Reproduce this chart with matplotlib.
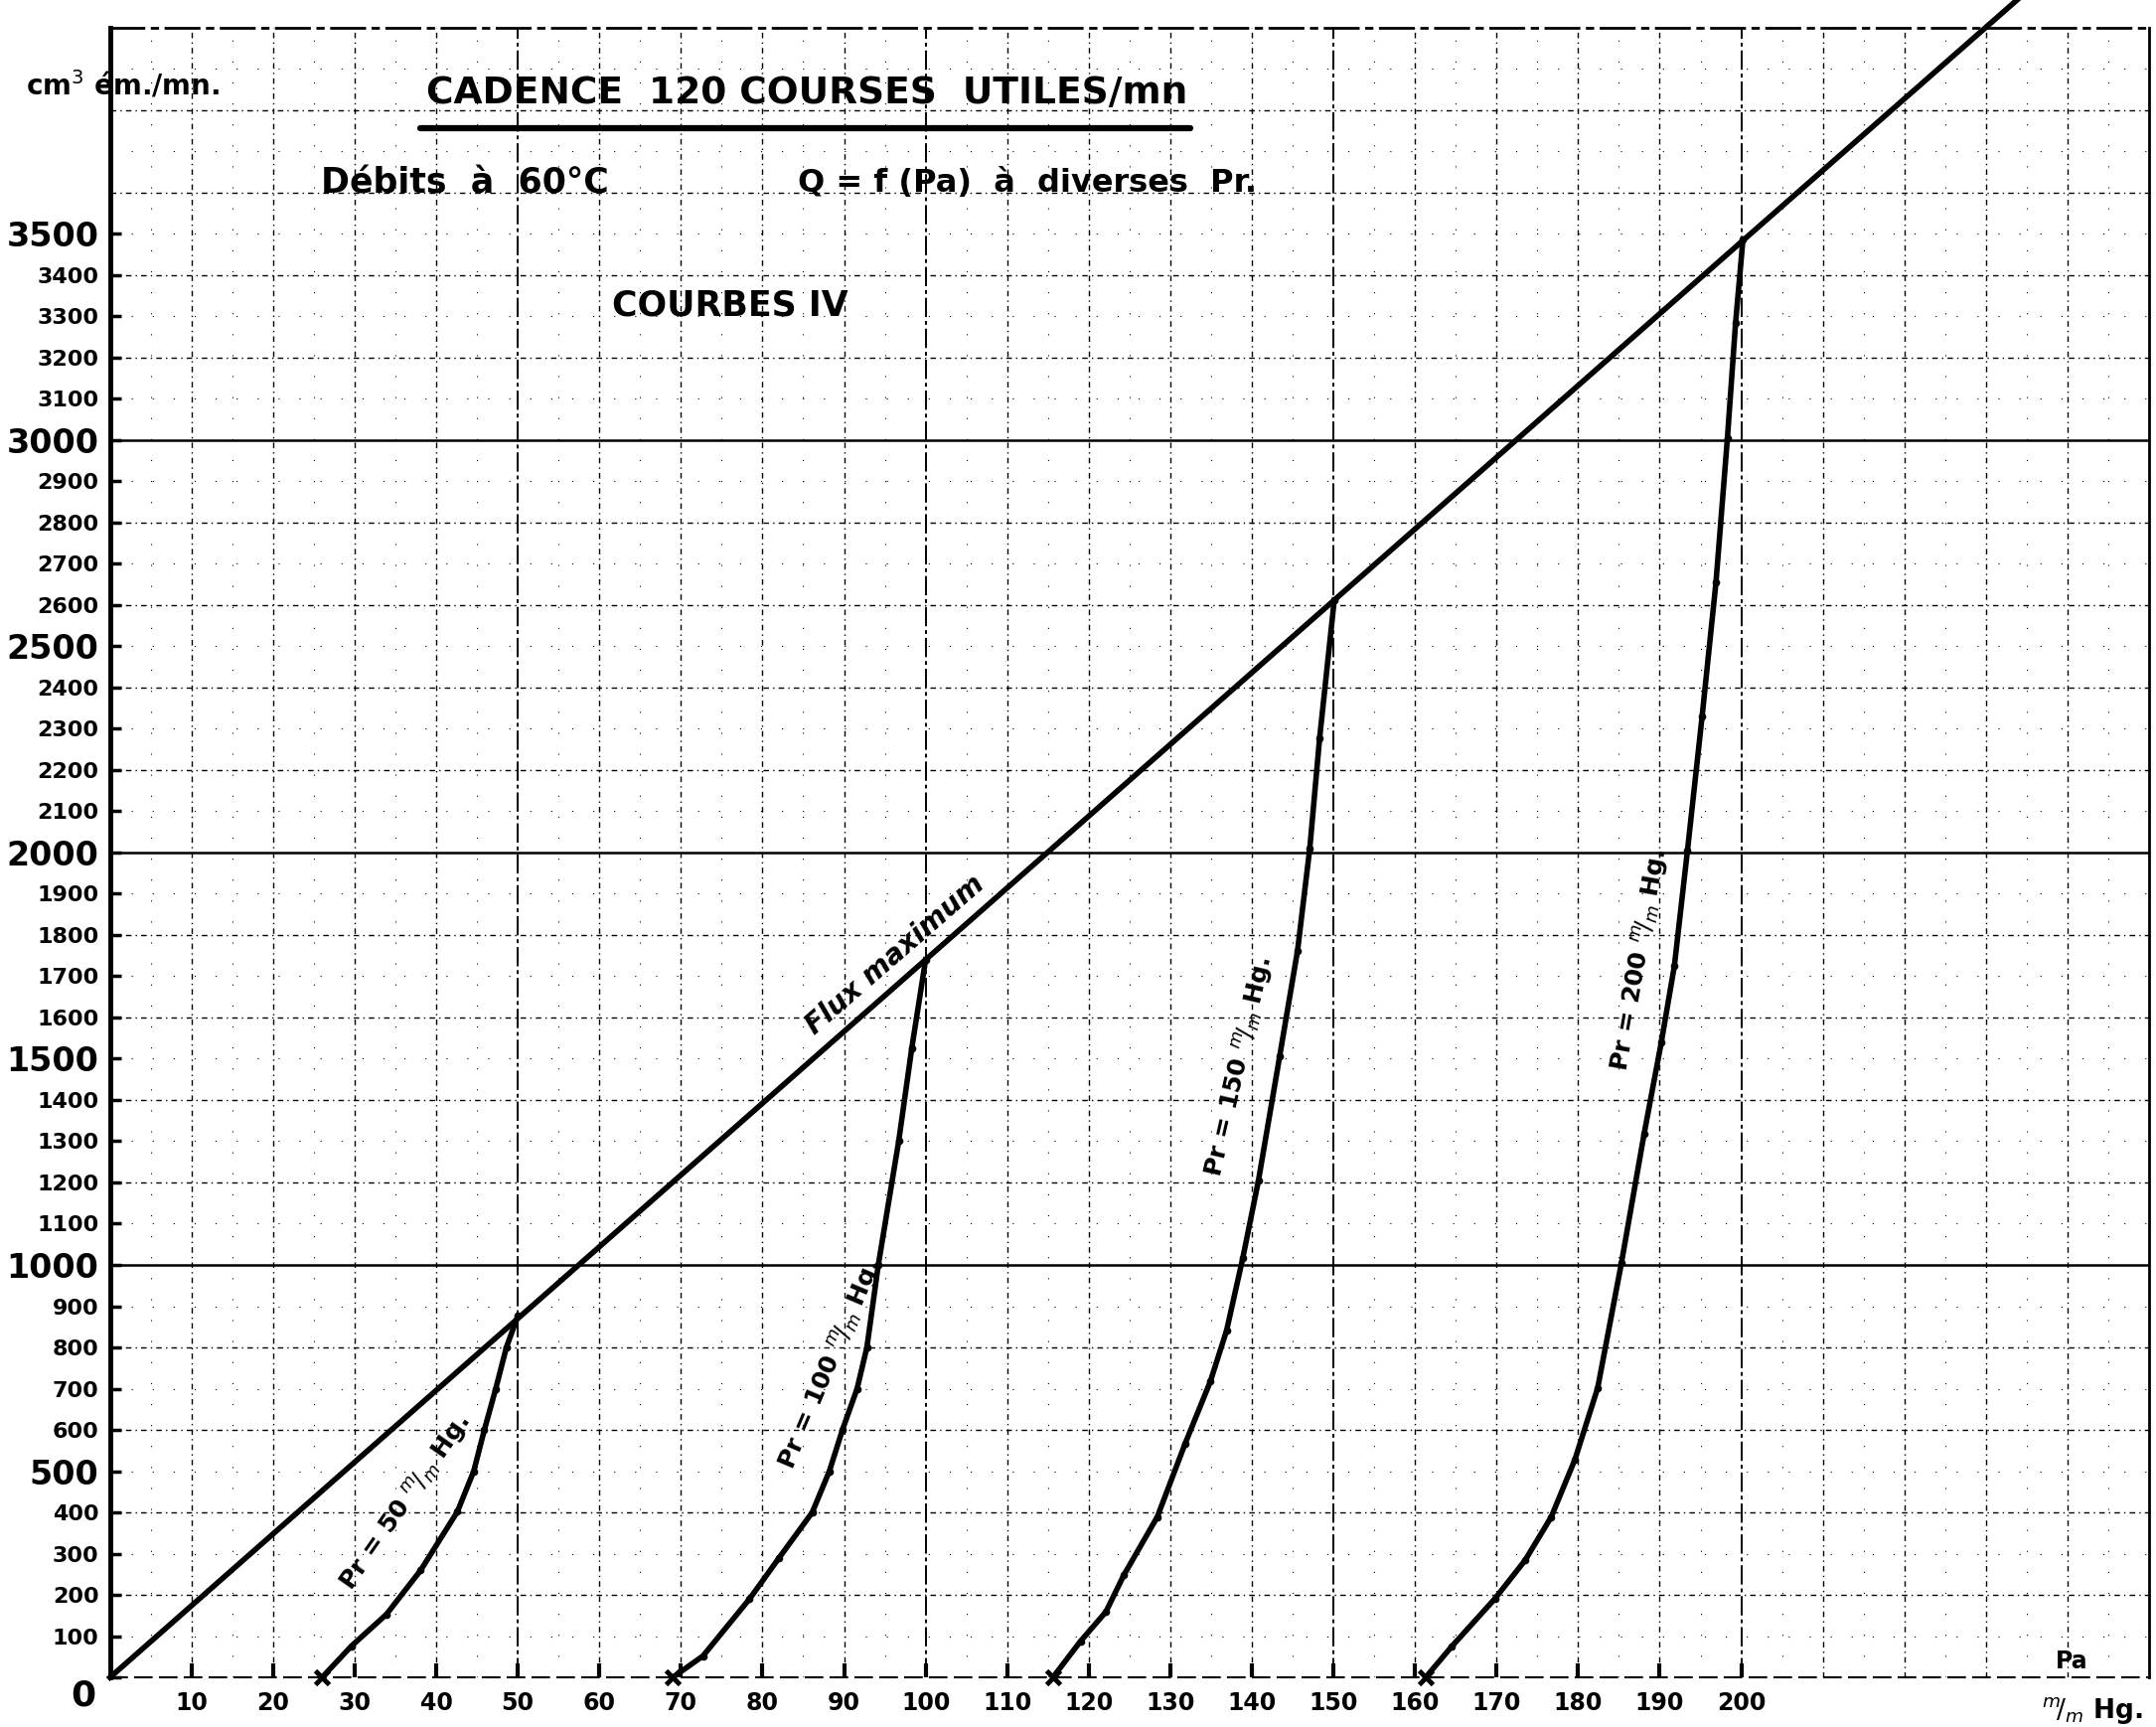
import matplotlib
matplotlib.use("Agg")
import matplotlib.pyplot as plt
import numpy as np

# ---- data ----
flux_x = [0, 50, 100, 150, 200, 234]
flux_y = [0, 870, 1740, 2610, 3480, 4070]

pr50_x = [26, 29.6, 33.9, 38.1, 42.6, 44.6, 45.9, 47.3, 48.6, 50]
pr50_y = [0, 76, 153, 260, 402, 500, 600, 700, 800, 876]

pr100_x = [69, 72.7, 78.4, 82.0, 86.1, 88.2, 89.8, 91.6, 92.8, 94.2, 96.7, 98.3, 100]
pr100_y = [0, 52, 190, 289, 400, 500, 600, 700, 800, 1000, 1300, 1525, 1740]

pr150_x = [115.6, 119.0, 122.1, 124.3, 128.4, 131.8, 134.9, 136.9, 138.9, 140.8, 143.4, 145.6, 147.1, 148.3, 150.1]
pr150_y = [0, 88, 159, 248, 389, 566, 717, 841, 1018, 1204, 1505, 1762, 2010, 2276, 2612]

pr200_x = [161.3, 164.5, 169.8, 173.5, 176.7, 179.6, 182.4, 185.3, 188.1, 190.2, 191.8, 193.4, 195.2, 196.9, 198.3, 199.3, 200.2]
pr200_y = [0, 75, 191, 284, 389, 528, 702, 1004, 1319, 1540, 1725, 2004, 2330, 2655, 3004, 3283, 3485]

curves = [(pr50_x, pr50_y), (pr100_x, pr100_y), (pr150_x, pr150_y), (pr200_x, pr200_y)]

# curve labels: text, x, y, rotation
curve_labels = [
    (r"Pr = 50 $^{m}\!/_{m}$ Hg.", 36.2, 425, 55),
    (r"Pr = 100 $^{m}\!/_{m}$ Hg.", 88.4, 760, 67),
    (r"Pr = 150 $^{m}\!/_{m}$ Hg.", 138.4, 1480, 77),
    (r"Pr = 200 $^{m}\!/_{m}$ Hg.", 187.6, 1740, 80),
]

x_ticks = list(range(10, 201, 10))
y_ticks = list(range(0, 3501, 100))

plt.rcParams['font.family'] = ['DejaVu Sans']
fig = plt.figure(figsize=(21.7, 17.38), dpi=100)
ax = fig.add_axes([0.051, 0.0287, 0.9458, 0.9554])
ax.set_xlim(0, 250)
ax.set_ylim(0, 4000)

# ---- hand-ruled looking grid ----
for gx in np.arange(5, 250, 5):
    if gx % 50 == 0:
        ax.axvline(gx, color='black', lw=1.4, ls=(0, (10, 2, 2, 2)), zorder=1)
    elif gx % 10 == 0:
        ax.axvline(gx, color='black', lw=1.0, ls=(0, (4, 3, 1, 3)), zorder=1)
    else:
        ax.axvline(gx, color='black', lw=0.8, ls=(0, (1, 18)), zorder=1)
for gy in np.arange(100, 4000, 100):
    if gy % 1000 == 0:
        ax.axhline(gy, color='black', lw=1.8, ls='-', zorder=1)
    elif gy % 200 == 0:
        ax.axhline(gy, color='black', lw=1.0, ls=(0, (4, 3, 1, 3)), zorder=1)
    else:
        ax.axhline(gy, color='black', lw=0.8, ls=(0, (1, 18)), zorder=1)

# ---- curves ----
ax.plot(flux_x, flux_y, color='black', lw=4, clip_on=False, zorder=3,
        solid_joinstyle='round')
for cx, cy in curves:
    ax.plot(cx, cy, color='black', lw=4, marker='o', ms=4.5, zorder=3,
            solid_joinstyle='round')
    ax.plot(cx[0], cy[0], color='black', marker='x', ms=10, mew=3.5, zorder=4, clip_on=False)

for txt, tx, ty, rot in curve_labels:
    ax.text(tx, ty, txt, rotation=rot, fontsize=18, fontweight='heavy',
            ha='center', va='center', rotation_mode='anchor', zorder=5)
ax.text(96.2, 1752, "Flux maximum", rotation=41, fontsize=20, fontweight='heavy',
        style='italic', ha='center', va='center', rotation_mode='anchor', zorder=5)

# ---- spines & ticks ----
ax.spines['left'].set_linewidth(3.5)
ax.spines['right'].set_linewidth(2)
ax.spines['top'].set_linewidth(2)
ax.spines['top'].set_linestyle((0, (12, 3, 2, 3)))
ax.spines['bottom'].set_linewidth(1.5)
ax.spines['bottom'].set_linestyle((0, (8, 4)))

ax.set_yticks(y_ticks)
ax.set_yticklabels([str(v) if v else "" for v in y_ticks])
for lab, v in zip(ax.get_yticklabels(), y_ticks):
    lab.set_fontweight('heavy')
    lab.set_fontsize(24 if v % 500 == 0 else 16)
ax.tick_params(axis='y', direction='in', length=8, width=2.5, pad=8)
ax.text(-3.3, -45, "0", fontsize=26, fontweight='heavy', ha='center', va='center',
        clip_on=False)

ax.set_xticks(x_ticks)
ax.set_xticklabels([str(v) for v in x_ticks], fontsize=17, fontweight='heavy')
ax.tick_params(axis='x', direction='in', length=10, width=3, pad=10)

# ---- texts ----
ax.text(85.5, 3840, "CADENCE  120 COURSES  UTILES/mn", fontsize=27, fontweight='heavy',
        ha='center', va='center')
ax.plot([38, 132.5], [3757, 3757], color='black', lw=4.5, solid_capstyle='round', zorder=5)
ax.text(43.5, 3623, "Débits  à  60°C", fontsize=25, fontweight='heavy', ha='center', va='center')
ax.text(112.5, 3623, "Q = f (Pa)  à  diverses  Pr.", fontsize=23, fontweight='heavy',
        ha='center', va='center')
ax.text(76, 3327, "COURBES IV", fontsize=25, fontweight='heavy', ha='center', va='center')

fig.text(0.012, 0.951, "cm$^3$ ém./mn.", fontsize=20, fontweight='heavy', ha='left', va='center')
ax.text(240.5, 40, "Pa", fontsize=17, fontweight='heavy', ha='center', va='center')
ax.text(243, -80, r"$^{m}\!/_{m}$ Hg.", fontsize=19, fontweight='heavy', ha='center',
        va='center', clip_on=False)

fig.savefig("out.png", dpi=100, facecolor='white')
